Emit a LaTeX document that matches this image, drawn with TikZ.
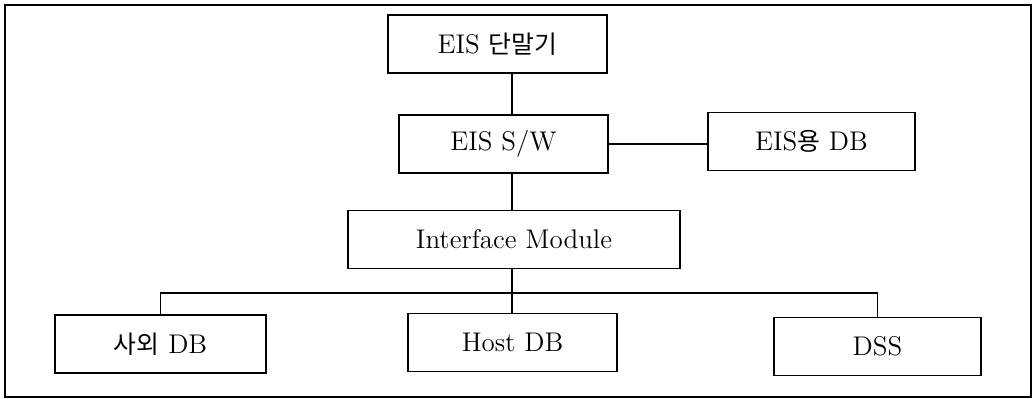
\documentclass[tikz,border=0pt]{standalone}
\usepackage{fontspec}
\newfontfamily\kr[Scale=0.92]{Noto Sans CJK KR}
\begin{document}
\begin{tikzpicture}[x=0.5pt,y=-0.5pt,
  blk/.style={draw,line width=0.7pt,inner sep=0pt,minimum height=29pt,font=\fontsize{13.5}{15}\selectfont},
  wire/.style={line width=0.7pt}]
 \useasboundingbox (0,0) rectangle (1033,399);
 \draw[line width=0.7pt] (5,5) rectangle (1031,397);
 \node[blk,minimum width=109.5pt] (term) at (497.5,44) {EIS {\kr 단말기}};
 \node[blk,minimum width=104.5pt] (sw) at (503.5,144) {EIS S/W};
 \node[blk,minimum width=103.5pt] (eisdb) at (811.5,141.5) {EIS{\kr 용} DB};
 \node[blk,minimum width=166pt] (iface) at (514,239.5) {Interface Module};
 \node[blk,minimum width=105.5pt] (outdb) at (160.5,344) {{\kr 사외} DB};
 \node[blk,minimum width=104.5pt] (host) at (512.5,342.5) {Host DB};
 \node[blk,minimum width=103.5pt] (dss) at (877.5,346.5) {DSS};
 \coordinate (trunk) at (512,0);
 \coordinate (bus) at (512,293);
 \draw[wire] (term.south -| trunk) -- (sw.north -| trunk);
 \draw[wire] (sw.east) -- (sw.east -| eisdb.west);
 \draw[wire] (sw.south -| trunk) -- (iface.north -| trunk);
 \draw[wire] (iface.south -| trunk) -- (host.north -| trunk);
 \draw[wire] (outdb.north) |- (dss.north |- bus) -- (dss.north);
\end{tikzpicture}
\end{document}
